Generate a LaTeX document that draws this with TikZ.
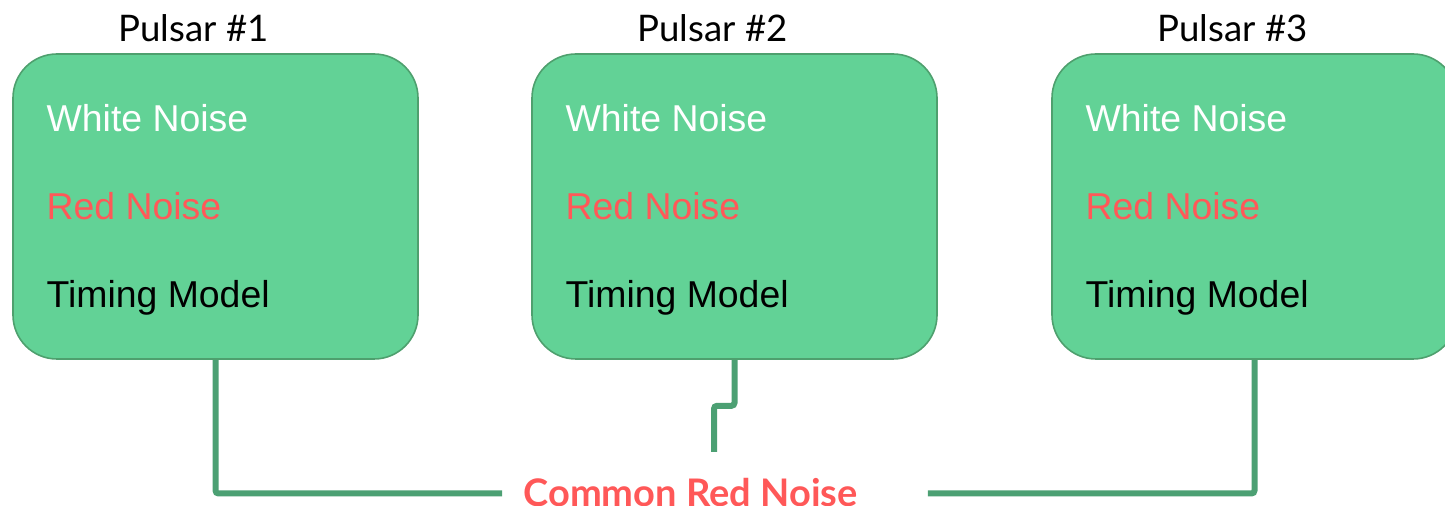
\documentclass[tikz,border=0pt]{standalone}
\usepackage{fontspec}
\setmainfont{Liberation Sans}
\newfontfamily\latofont{Lato}
\usetikzlibrary{calc}
\definecolor{boxgreen}{RGB}{98,210,150}
\definecolor{boxedge}{RGB}{78,160,110}
\definecolor{linkgreen}{RGB}{76,160,115}
\definecolor{noisered}{RGB}{255,88,88}
\tikzset{
    pulsarbox/.style={draw=boxedge,fill=boxgreen,line width=0.8pt,rounded corners=22pt,
        minimum width=202.5pt,minimum height=152.5pt,inner sep=0pt},
    pulsartitle/.style={font=\latofont\fontsize{18.3}{22}\selectfont,anchor=base,inner sep=0pt},
    noiseline/.style={font=\fontsize{18.7}{22}\selectfont,anchor=base west,inner sep=0pt},
    crnlabel/.style={font=\latofont\bfseries\fontsize{19}{22}\selectfont,text=noisered,
        anchor=base,inner sep=0pt,text height=13.5pt,text depth=0pt},
    link/.style={draw=linkgreen,line width=3pt,rounded corners=1.5pt}
}

\begin{document}
\begin{tikzpicture}[x=0.5pt,y=-0.5pt]
  \useasboundingbox (0,0) rectangle (1445,506);
  % common label
  \node[crnlabel] (crn) at (690.5,507) {Common Red Noise};
  \coordinate (stub) at (714,452);
  % pulsars
  \foreach \i/\cx in {1/215.5,2/734.5,3/1254.5}{
    \node[pulsarbox] (box\i) at (\cx,206.5) {};
    \node[pulsartitle] (title\i) at ($(box\i.north)+(-22,-12)$) {Pulsar \#\i};
    \node[noiseline,white] (wn\i) at ($(box\i.north west)+(34,78)$) {White Noise};
    \node[noiseline,noisered] (rn\i) at ($(box\i.north west)+(34,166)$) {Red Noise};
    \node[noiseline,black] (tm\i) at ($(box\i.north west)+(34,254)$) {Timing Model};
  }
  % links to the common red noise
  \draw[link] (box1.south) |- ([xshift=-10.5pt]crn.west);
  \draw[link] (box3.south) |- ([xshift=35pt]crn.east);
  \draw[link] (box2.south) -- ++(0,46) -| (stub);
\end{tikzpicture}
\end{document}
